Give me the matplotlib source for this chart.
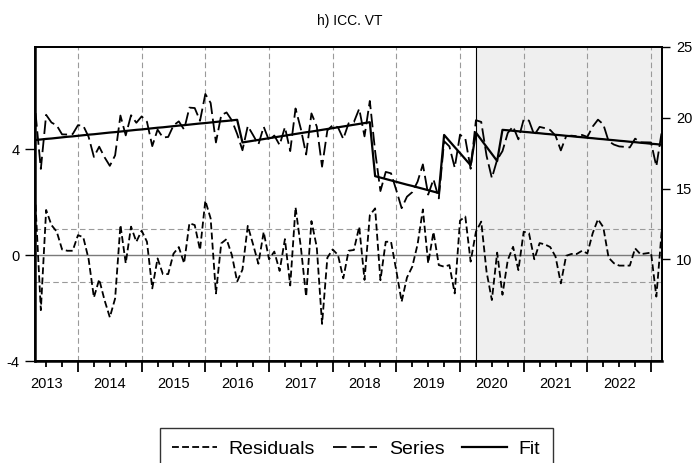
import numpy as np
import pandas as pd
import matplotlib
matplotlib.use('Agg')
import matplotlib.pyplot as plt

plt.rcParams['font.family'] = ['Liberation Sans', 'DejaVu Sans']
plt.rcParams['axes.unicode_minus'] = False

# monthly sample 2013M05 - 2023M03
months = pd.period_range('2013-05', '2023-03', freq='M')
x = np.array(months.year + (months.month - 1) / 12.0)

residuals = [1.90, -2.08, 1.70, 1.13, 0.88, 0.21, 0.16, 0.16, 0.75, 0.67,
             -0.15, -1.60, -0.92, -1.70, -2.35, -1.64, 1.13, -0.31, 1.07, 0.50,
             0.92, 0.50, -1.26, -0.13, -0.72, -0.72, 0.05, 0.30, -0.31, 1.20,
             1.13, 0.19, 2.05, 1.38, -1.45, 0.44, 0.60, 0.00, -1.00, -0.55,
             1.10, 0.40, -0.33, 0.87, -0.16, 0.13, -0.60, 0.60, -1.15, 1.80,
             0.30, -1.57, 1.28, 0.30, -2.60, -0.10, 0.21, 0.00, -0.88, 0.16,
             0.19, 1.07, -0.94, 1.50, 1.76, -0.95, 0.50, 0.50, -0.60, -1.76,
             -0.85, -0.44, 0.40, 1.72, -0.31, 0.87, -0.38, -0.44, -0.38, -1.45,
             1.30, 1.45, -0.25, 0.88, 1.26, -0.63, -1.70, 0.09, -1.50, -0.19,
             0.31, -0.57, 0.88, 0.82, -0.16, 0.45, 0.40, 0.30, -0.06, -1.07,
             -0.03, 0.04, 0.04, 0.16, 0.06, 0.82, 1.35, 1.05, -0.10, -0.31,
             -0.40, -0.40, -0.40, 0.25, 0.03, 0.06, 0.09, -1.57, 0.88]

fit = [18.43, 18.47, 18.51, 18.54, 18.58, 18.62, 18.66, 18.69, 18.73, 18.77,
       18.81, 18.84, 18.88, 18.92, 18.96, 18.99, 19.03, 19.07, 19.11, 19.15,
       19.18, 19.22, 19.26, 19.30, 19.33, 19.37, 19.41, 19.45, 19.48, 19.52,
       19.56, 19.60, 19.63, 19.67, 19.71, 19.75, 19.78, 19.82, 19.86, 18.26,
       18.32, 18.38, 18.44, 18.50, 18.56, 18.62, 18.68, 18.74, 18.80, 18.86,
       18.92, 18.98, 19.03, 19.09, 19.15, 19.21, 19.27, 19.33, 19.39, 19.45,
       19.51, 19.57, 19.63, 19.69, 15.88, 15.78, 15.68, 15.58, 15.48, 15.38,
       15.28, 15.19, 15.09, 14.99, 14.89, 14.79, 14.69, 18.79, 18.36, 17.93,
       17.51, 17.08, 16.65, 18.95, 18.45, 17.95, 17.45, 16.95, 19.15, 19.12,
       19.08, 19.05, 19.01, 18.98, 18.94, 18.91, 18.87, 18.84, 18.80, 18.77,
       18.73, 18.70, 18.66, 18.63, 18.59, 18.56, 18.52, 18.49, 18.45, 18.42,
       18.38, 18.35, 18.31, 18.28, 18.24, 18.21, 18.17, 18.14, 18.10]

series = [20.33, 16.39, 20.21, 19.67, 19.46, 18.83, 18.82, 18.85, 19.48, 19.44,
          18.66, 17.24, 17.96, 17.22, 16.61, 17.35, 20.16, 18.76, 20.18, 19.65,
          20.10, 19.72, 18.00, 19.17, 18.61, 18.65, 19.46, 19.75, 19.17, 20.72,
          20.69, 19.79, 21.68, 21.05, 18.26, 20.19, 20.38, 19.82, 18.86, 17.71,
          19.42, 18.78, 18.11, 19.37, 18.40, 18.75, 18.08, 19.34, 17.65, 20.66,
          19.22, 17.41, 20.31, 19.39, 16.55, 19.11, 19.48, 19.33, 18.51, 19.61,
          19.70, 20.64, 18.69, 21.19, 17.64, 14.83, 16.18, 16.08, 14.88, 13.62,
          14.43, 14.75, 15.49, 16.71, 14.58, 15.66, 14.31, 18.35, 17.98, 16.48,
          18.81, 18.53, 16.40, 19.83, 19.71, 17.32, 15.75, 17.04, 17.65, 18.93,
          19.39, 18.48, 19.89, 19.80, 18.78, 19.36, 19.27, 19.14, 18.74, 17.70,
          18.70, 18.74, 18.70, 18.79, 18.65, 19.38, 19.87, 19.54, 18.35, 18.11,
          17.98, 17.95, 17.91, 18.53, 18.27, 18.27, 18.26, 16.57, 18.98]

years = list(range(2013, 2024))
shade_start = 2020.25  # 2020M04 onwards shaded
x_lo, x_hi = 2013.325, 2023.172

fig = plt.figure(figsize=(7, 4.63), dpi=100)
ax = fig.add_axes([0.05, 0.2203, 0.8957, 0.6782])

ax.axvspan(shade_start, x_hi, color='#efefef', zorder=0, lw=0)
for yr in years[1:]:
    ax.axvline(yr, color='#9a9a9a', lw=0.8, ls=(0, (5, 3)), zorder=1)
ax.axhline(1, color='#9a9a9a', lw=0.8, ls=(0, (5, 3)), zorder=1)
ax.axhline(-1, color='#9a9a9a', lw=0.8, ls=(0, (5, 3)), zorder=1)
ax.axhline(0, color='#7a7a7a', lw=1.0, zorder=1)
ax.axvline(shade_start, color='black', lw=0.8, zorder=2)

l1, = ax.plot(x, residuals, color='black', lw=1.3, ls=(0, (3.8, 1.8)),
              label='Residuals', zorder=3)
ax.set_xlim(x_lo, x_hi)
ax.set_ylim(-4, 7.85)
ax.set_yticks([-4, 0, 4])

ax2 = ax.twinx()
l2, = ax2.plot(x, series, color='black', lw=1.3, ls=(0, (7.5, 2.6)),
               label='Series', zorder=3)
l3, = ax2.plot(x, fit, color='black', lw=1.6, label='Fit', zorder=4)
ax2.set_ylim(2.83, 25)
ax2.set_yticks([10, 15, 20, 25])

# year boundaries as major ticks, quarters as minor, year names mid-year
ax.set_xticks(years[1:], [''] * len(years[1:]))
minor_pos, minor_lab = [], []
for yr in years:
    for q in (0.25, 0.5, 0.75):
        if x_lo <= yr + q <= x_hi:
            minor_pos.append(yr + q)
            minor_lab.append(str(yr) if q == 0.5 else '')
ax.set_xticks(minor_pos, minor_lab, minor=True)

ax.tick_params(axis='x', which='major', length=8, width=1.3, direction='out')
ax.tick_params(axis='x', which='minor', length=4.5, width=1.3, direction='out',
               pad=7, labelsize=10.5)
ax.tick_params(axis='y', length=7, width=1.0, pad=4, labelsize=10.5)
ax2.tick_params(axis='y', length=6, width=1.0, pad=4, labelsize=10.5)

for a in (ax, ax2):
    for side in a.spines.values():
        side.set_linewidth(1.3)
ax.spines['left'].set_linewidth(1.8)
ax.spines['bottom'].set_linewidth(1.8)

fig.text(0.5, 1 - 21 / 463, 'h) ICC. VT', ha='center', va='center', fontsize=10)

leg = fig.legend([l1, l2, l3], ['Residuals', 'Series', 'Fit'],
                 loc='upper center', bbox_to_anchor=(0.509, 0.0756), ncol=3,
                 frameon=True, fancybox=False, edgecolor='black', fontsize=14,
                 handlelength=2.3, columnspacing=0.9, handletextpad=0.6,
                 borderpad=0.65, borderaxespad=0)
leg.get_frame().set_linewidth(1.0)

fig.savefig('out.png', dpi=100)
